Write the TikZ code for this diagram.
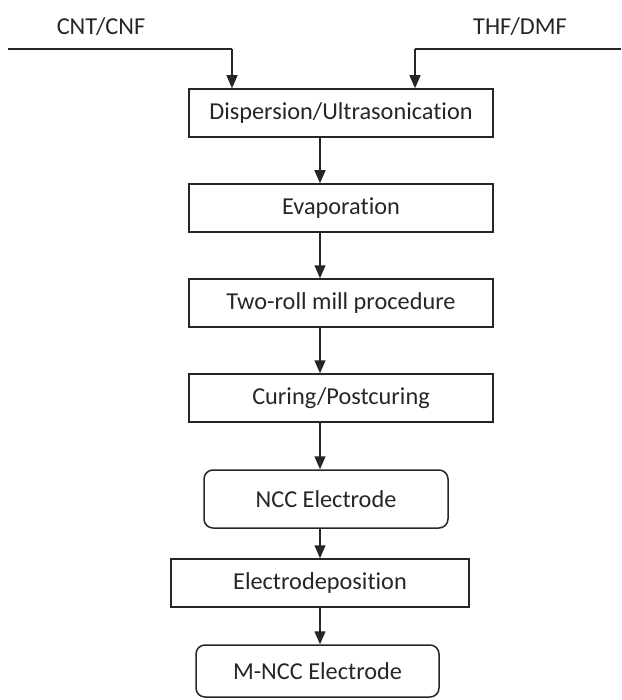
\documentclass[tikz,border=0pt]{standalone}
\usepackage{fontspec}
\setmainfont{Carlito}[RawFeature={-liga}]
\usetikzlibrary{arrows.meta}
\definecolor{inkgray}{HTML}{262626}
\begin{document}
\begin{tikzpicture}[x=1pt,y=-1pt,
  every node/.style={font=\fontsize{24.3}{28}\selectfont, inner sep=0pt, text=inkgray},
  stepbox/.style={draw=inkgray, line width=1.5pt, minimum height=48pt},
  roundbox/.style={draw=inkgray, line width=1.5pt, rounded corners=9pt},
  arr/.style={draw=inkgray, line width=1.5pt, -{Triangle[length=13pt,width=11pt]}},
  ln/.style={draw=inkgray, line width=1.5pt}]
\useasboundingbox (0,0) rectangle (621,700);
\node (cntlabel) at (101,27) {CNT/CNF};
\node (thflabel) at (520,27) {THF/DMF};
\node[stepbox, minimum width=304pt] (disp) at (341,113) {Dispersion/Ultrasonication};
\node[stepbox, minimum width=304pt] (evap) at (341,208) {Evaporation};
\node[stepbox, minimum width=304pt] (roll) at (341,303) {Two-roll mill procedure};
\node[stepbox, minimum width=304pt] (cure) at (341,398) {Curing/Postcuring};
\node[roundbox, minimum width=244pt, minimum height=58pt] (ncc) at (326,499) {NCC Electrode};
\node[stepbox, minimum width=298pt] (elec) at (320,583) {Electrodeposition};
\node[roundbox, minimum width=243pt, minimum height=52pt] (mncc) at (317.5,671) {M-NCC Electrode};
\coordinate (cntstart) at (8,49);
\coordinate (cntbend) at (232,49);
\coordinate (thfstart) at (621,49);
\coordinate (thfbend) at (415,49);
\coordinate (colx) at (320,0);
\draw[ln] (cntstart) -- (cntbend);
\draw[arr] (cntbend) -- (disp.north -| cntbend);
\draw[ln] (thfstart) -- (thfbend);
\draw[arr] (thfbend) -- (disp.north -| thfbend);
\draw[arr] (disp.south -| colx) -- (evap.north -| colx);
\draw[arr] (evap.south -| colx) -- (roll.north -| colx);
\draw[arr] (roll.south -| colx) -- (cure.north -| colx);
\draw[arr] (cure.south -| colx) -- (ncc.north -| colx);
\draw[arr] (ncc.south -| colx) -- (elec.north -| colx);
\draw[arr] (elec.south -| colx) -- (mncc.north -| colx);
\end{tikzpicture}
\end{document}
